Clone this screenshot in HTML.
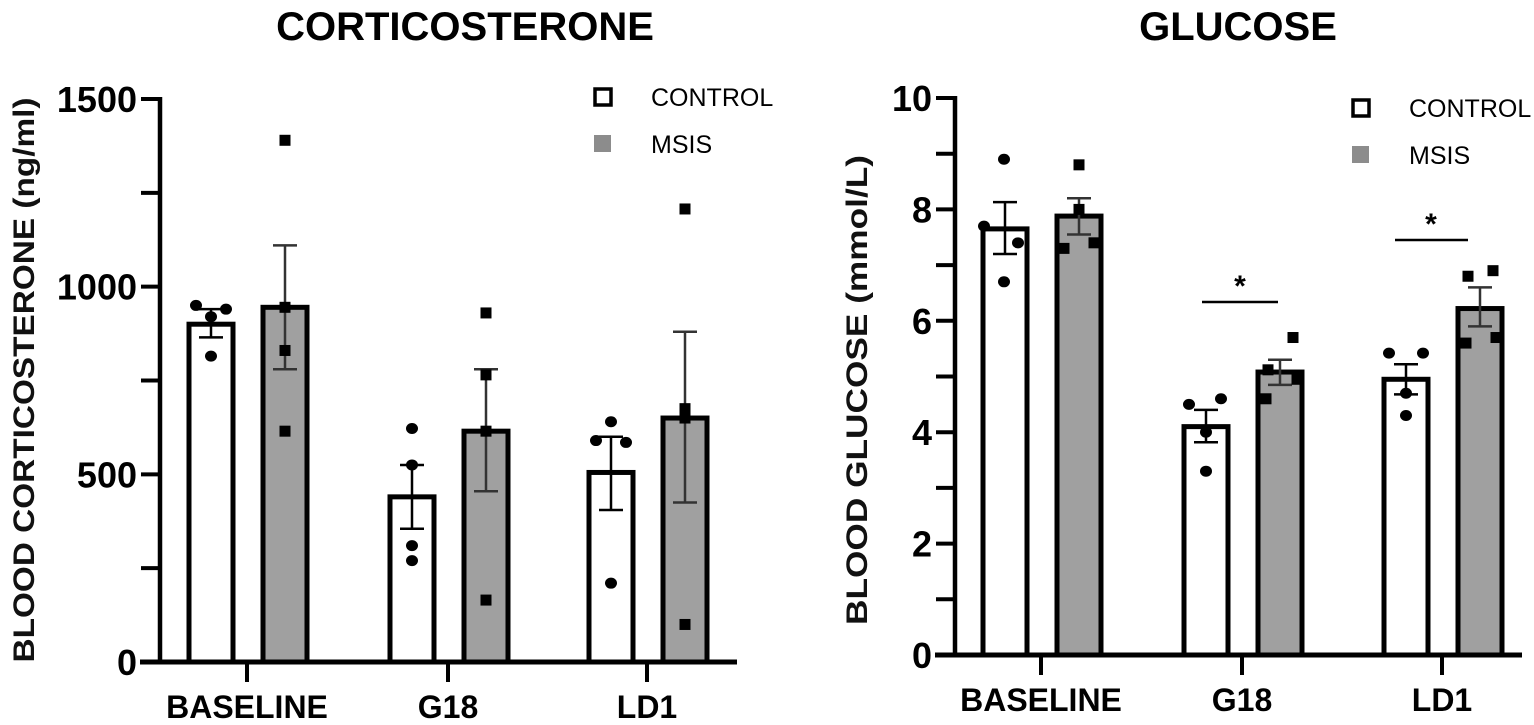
<!DOCTYPE html>
<html><head><meta charset="utf-8"><style>
html,body{margin:0;padding:0;background:#fff;}
svg{display:block;font-family:"Liberation Sans",Arial,sans-serif;}
</style></head><body>
<svg id="s" width="1534" height="725" viewBox="0 0 1534 725" xmlns="http://www.w3.org/2000/svg">
<text x="465" y="40" font-size="40" font-weight="bold" text-anchor="middle">CORTICOSTERONE</text>
<text x="1238" y="40" font-size="40" font-weight="bold" text-anchor="middle">GLUCOSE</text>
<text transform="translate(34,380) rotate(-90)" font-size="30" font-weight="bold" text-anchor="middle" textLength="565" lengthAdjust="spacingAndGlyphs" fill="#111">BLOOD CORTICOSTERONE (ng/ml)</text>
<text transform="translate(867,390) rotate(-90)" font-size="30" font-weight="bold" text-anchor="middle" textLength="470" lengthAdjust="spacingAndGlyphs" fill="#111">BLOOD GLUCOSE (mmol/L)</text>
<g id="g"></g>
</svg>
<script>
var g=document.getElementById('g'),h='';
function L(x1,y1,x2,y2,w,c){h+='<line x1="'+x1+'" y1="'+y1+'" x2="'+x2+'" y2="'+y2+'" stroke="'+(c||'#000')+'" stroke-width="'+w+'"/>';}
function T(x,y,s,fs,a,b){h+='<text x="'+x+'" y="'+y+'" font-size="'+fs+'" text-anchor="'+a+'"'+(b?' font-weight="bold"':'')+'>'+s+'</text>';}
function chart(o){
 var Y=function(v){return o.y0-(v/o.max)*(o.y0-o.ytop);};
 o.groups.forEach(function(gr,i){
  var tx=o.ticks[i];
  [[gr.c,tx-36,'#fff','circle'],[gr.m,tx+38,'#a0a0a0','sq']].forEach(function(b){
   var d=b[0],cx=b[1],y=Y(d.mean);
   h+='<rect x="'+(cx-22)+'" y="'+y+'" width="44" height="'+(o.y0-y)+'" fill="'+b[2]+'" stroke="#000" stroke-width="5"/>';
   var ec=b[3]=='sq'?'#333':'#000';
   L(cx,Y(d.lo),cx,Y(d.hi),2.5,ec);L(cx-12,Y(d.hi),cx+12,Y(d.hi),2.5,ec);L(cx-12,Y(d.lo),cx+12,Y(d.lo),2.5,ec);
   d.pts.forEach(function(p){var px=cx+p[0],py=Y(p[1]);
    if(b[3]=='circle')h+='<ellipse cx="'+px+'" cy="'+py+'" rx="6" ry="5.5" fill="#000"/>';
    else h+='<rect x="'+(px-5.5)+'" y="'+(py-5.5)+'" width="11" height="11" fill="#000"/>';});
  });
  L(tx,o.y0,tx,o.y0+20,4);
  T(tx,o.y0+56,o.labels[i],32,'middle',true);
 });
 L(o.ax,o.ytop-2,o.ax,o.y0+2,4.5);
 L(o.ax-20,o.y0,o.xend,o.y0,5);
 o.yt.forEach(function(v){var y=Y(v);L(o.ax-19,y,o.ax,y,4);});
 o.yl.forEach(function(v){T(o.ax-23,Y(v)+13,v,36,'end',true);});
 h+='<rect x="'+(o.lx-8)+'" y="'+(o.ly-8)+'" width="16" height="16" fill="#fff" stroke="#000" stroke-width="3.5"/>';
 T(o.lx+48,o.ly+9,'CONTROL',25,'start');
 h+='<rect x="'+(o.lx-9)+'" y="'+(o.ly+38)+'" width="17" height="17" fill="#8c8c8c"/>';
 T(o.lx+48,o.ly+56,'MSIS',25,'start');
}
chart({ax:160,y0:662,ytop:99,max:1500,xend:737,ticks:[247,448,647],labels:['BASELINE','G18','LD1'],
 yt:[0,250,500,750,1000,1250,1500],yl:[0,500,1000,1500],lx:603,ly:97,
 groups:[
  {c:{mean:900,lo:865,hi:940,pts:[[-15,950],[15,940],[0,920],[0,815]]},m:{mean:945,lo:780,hi:1110,pts:[[0,1390],[0,945],[0,830],[0,615]]}},
  {c:{mean:440,lo:355,hi:525,pts:[[0,622],[0,525],[0,310],[0,270]]},m:{mean:615,lo:455,hi:780,pts:[[0,930],[0,765],[0,615],[0,165]]}},
  {c:{mean:505,lo:405,hi:600,pts:[[0,640],[-15,590],[15,585],[0,210]]},m:{mean:650,lo:425,hi:880,pts:[[0,1207],[0,675],[0,650],[0,100]]}}
 ]});
chart({ax:955,y0:655,ytop:98,max:10,xend:1522,ticks:[1041,1242,1442],labels:['BASELINE','G18','LD1'],
 yt:[0,1,2,3,4,5,6,7,8,9,10],yl:[0,2,4,6,8,10],lx:1361,ly:108,
 groups:[
  {c:{mean:7.65,lo:7.2,hi:8.13,pts:[[-1,8.9],[-21,7.7],[13,7.4],[-1,6.7]]},m:{mean:7.88,lo:7.55,hi:8.2,pts:[[0,8.8],[0,8.0],[-15,7.3],[15,7.4]]}},
  {c:{mean:4.1,lo:3.82,hi:4.4,pts:[[-17,4.5],[15,4.6],[0,4.0],[0,3.3]]},m:{mean:5.08,lo:4.85,hi:5.3,pts:[[13,5.7],[-12,5.12],[17,4.95],[-14,4.6]]}},
  {c:{mean:4.95,lo:4.68,hi:5.22,pts:[[-17,5.42],[17,5.42],[0,4.7],[0,4.3]]},m:{mean:6.22,lo:5.9,hi:6.6,pts:[[13,6.9],[-12,6.8],[-14,5.6],[16,5.7]]}}
 ]});
L(1202,302,1278,302,2.5);T(1240,296,'*',30,'middle',true);
L(1395,240,1468,240,2.5);T(1431,234,'*',30,'middle',true);
g.innerHTML=h;
</script>
</body></html>
